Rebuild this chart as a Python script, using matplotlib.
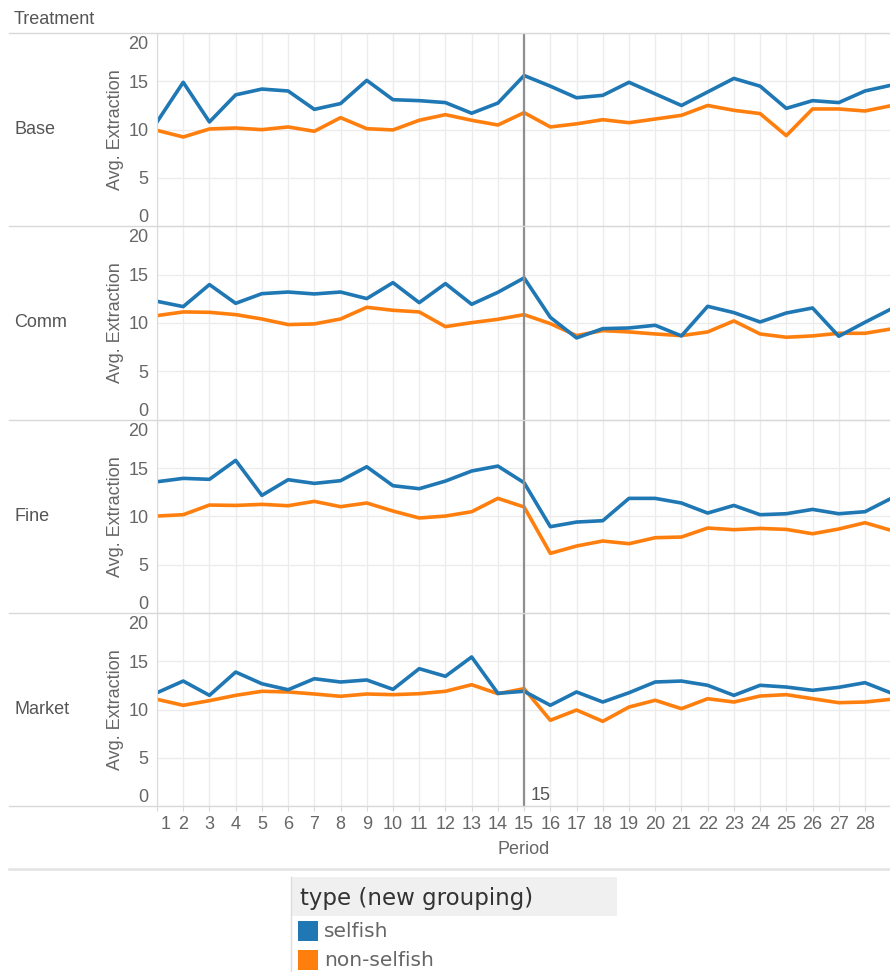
import numpy as np
import matplotlib.pyplot as plt
import matplotlib.transforms as mtransforms
from matplotlib.lines import Line2D
from matplotlib.patches import Rectangle

plt.rcParams['font.family'] = ['Liberation Sans', 'DejaVu Sans']

periods = list(range(1, 30))
tick_periods = list(range(1, 29))
treatments = ["Base", "Comm", "Fine", "Market"]
series_names = ["selfish", "non-selfish"]
series_colors = ["#1f77b4", "#ff7f0e"]

base_selfish = [10.8, 14.9, 10.8, 13.6, 14.2, 14.0, 12.1, 12.7, 15.1, 13.1, 13.0, 12.8, 11.7, 12.75, 15.6,
                14.5, 13.3, 13.55, 14.9, 13.7, 12.5, 13.9, 15.3, 14.5, 12.2, 13.0, 12.8, 14.0, 14.6]
base_nonselfish = [9.93, 9.24, 10.07, 10.17, 10.0, 10.28, 9.83, 11.24, 10.1, 9.97, 10.97, 11.55, 10.97, 10.48, 11.76,
                   10.28, 10.6, 11.03, 10.72, 11.1, 11.48, 12.5, 12.0, 11.66, 9.38, 12.14, 12.14, 11.93, 12.48]
comm_selfish = [12.24, 11.69, 13.97, 12.03, 13.03, 13.2, 13.0, 13.2, 12.52, 14.17, 12.1, 14.07, 11.93, 13.17, 14.66,
                10.58, 8.45, 9.41, 9.48, 9.76, 8.66, 11.72, 11.07, 10.1, 11.03, 11.55, 8.62, 10.07, 11.45]
comm_nonselfish = [10.76, 11.14, 11.1, 10.86, 10.41, 9.83, 9.9, 10.41, 11.62, 11.31, 11.14, 9.62, 10.03, 10.38, 10.86,
                   9.93, 8.69, 9.21, 9.07, 8.86, 8.69, 9.07, 10.21, 8.86, 8.52, 8.66, 8.93, 8.93, 9.38]
fine_selfish = [13.58, 13.93, 13.83, 15.79, 12.17, 13.79, 13.41, 13.69, 15.13, 13.17, 12.86, 13.65, 14.69, 15.2, 13.48,
                8.93, 9.41, 9.55, 11.86, 11.86, 11.38, 10.34, 11.13, 10.17, 10.27, 10.72, 10.27, 10.48, 11.86]
fine_nonselfish = [10.03, 10.17, 11.17, 11.13, 11.24, 11.1, 11.55, 11.0, 11.38, 10.55, 9.83, 10.03, 10.48, 11.86, 10.97,
                   6.17, 6.93, 7.45, 7.17, 7.79, 7.86, 8.79, 8.62, 8.75, 8.65, 8.2, 8.69, 9.34, 8.55]
market_selfish = [11.75, 12.96, 11.48, 13.89, 12.68, 12.06, 13.2, 12.86, 13.07, 12.1, 14.24, 13.45, 15.45, 11.69, 11.9,
                  10.45, 11.83, 10.79, 11.75, 12.86, 12.96, 12.52, 11.48, 12.52, 12.34, 12.0, 12.31, 12.79, 11.72]
market_nonselfish = [11.07, 10.45, 10.93, 11.48, 11.9, 11.83, 11.62, 11.38, 11.62, 11.55, 11.65, 11.9, 12.58, 11.65, 12.17,
                     8.9, 9.96, 8.79, 10.27, 10.97, 10.1, 11.13, 10.79, 11.41, 11.55, 11.13, 10.72, 10.79, 11.07]

selfish = [base_selfish, comm_selfish, fine_selfish, market_selfish]
nonselfish = [base_nonselfish, comm_nonselfish, fine_nonselfish, market_nonselfish]
ref_period = 15

W, H = 890, 972
fig = plt.figure(figsize=(W / 100, H / 100), dpi=100)


def fx(px):
    return px / W


def fy(py):
    return 1 - py / H


# panel geometry in pixels
left, right = 157, 891.2
tops = [33, 226.3, 419.7, 613]
ph = 193.3
grid_c = "#ececec"
sep_c = "#d9d9d9"
text_c = "#666666"

for i, name in enumerate(treatments):
    ax = fig.add_axes([fx(left), fy(tops[i] + ph), fx(right) - fx(left), ph / H])
    ax.plot(periods, nonselfish[i], color=series_colors[1], lw=2.6, solid_joinstyle="round")
    ax.plot(periods, selfish[i], color=series_colors[0], lw=2.6, solid_joinstyle="round")
    ax.axvline(ref_period, color="#8f8f8f", lw=1.6, zorder=5)
    ax.set_xlim(1, 29)
    ax.set_ylim(0, 20)
    ax.set_xticks(tick_periods)
    ax.set_yticks([0, 5, 10, 15, 20])
    ax.grid(True, color=grid_c, lw=1)
    ax.set_axisbelow(True)
    for s in ["top", "right", "bottom"]:
        ax.spines[s].set_visible(False)
    ax.spines["left"].set_color(sep_c)
    ax.tick_params(axis="y", length=0, pad=6, labelsize=13, labelcolor=text_c)
    labels = ax.get_yticklabels()
    labels[0].set_va("bottom")
    labels[-1].set_va("top")
    labels[-1].set_transform(labels[-1].get_transform()
                             + mtransforms.ScaledTranslation(0, -3 / 100, fig.dpi_scale_trans))
    ax.text(-42 / (right - left), 0.5, "Avg. Extraction", transform=ax.transAxes,
            rotation=90, ha="center", va="center", fontsize=13, color=text_c)
    fig.text(fx(14), fy(tops[i] + ph / 2), name, ha="left", va="center", fontsize=13, color="#555555")

    if i == len(treatments) - 1:
        ax.tick_params(axis="x", length=3.6, color=sep_c, pad=3.5, labelsize=13, labelcolor=text_c)
        first = ax.get_xticklabels()[0]
        first.set_ha("left")
        first.set_transform(first.get_transform()
                            + mtransforms.ScaledTranslation(4 / 100, 0, fig.dpi_scale_trans))
        ax.set_xlabel("Period", fontsize=13, color=text_c, labelpad=6)
        ax.annotate(str(ref_period), xy=(ref_period, 0), xytext=(4.5, 2), textcoords="offset points",
                    ha="left", va="bottom", fontsize=13, color="#555555")
    else:
        ax.tick_params(axis="x", length=0, labelbottom=False)

fig.text(fx(14), fy(20), "Treatment", ha="left", va="center", fontsize=13, color="#555555")

# row separators
for y in [33, 226.3, 419.7, 613, 806.3]:
    fig.add_artist(Line2D([fx(9), fx(890)], [fy(y), fy(y)], color=sep_c, lw=1))
fig.add_artist(Line2D([fx(9), fx(890)], [fy(868.5), fy(868.5)], color="#e3e3e3", lw=1.8))

# legend
fig.add_artist(Line2D([fx(290.5), fx(290.5)], [fy(877), fy(972)], color="#dcdcdc", lw=1))
fig.add_artist(Rectangle((fx(291), fy(916)), fx(617) - fx(291), 39 / H, color="#f0f0f0", lw=0))
fig.text(fx(300), fy(898), "type (new grouping)", ha="left", va="center", fontsize=16.5,
         color="#333333", family="DejaVu Sans")
for j, (lab, col) in enumerate(zip(series_names, series_colors)):
    yc = 931 + 29 * j
    fig.add_artist(Rectangle((fx(297.5), fy(yc + 10)), 20 / W, 20 / H, color=col, lw=0))
    fig.text(fx(324), fy(yc), lab, ha="left", va="center", fontsize=14.5, color=text_c, family="DejaVu Sans")

fig.savefig("out.png", dpi=100)
